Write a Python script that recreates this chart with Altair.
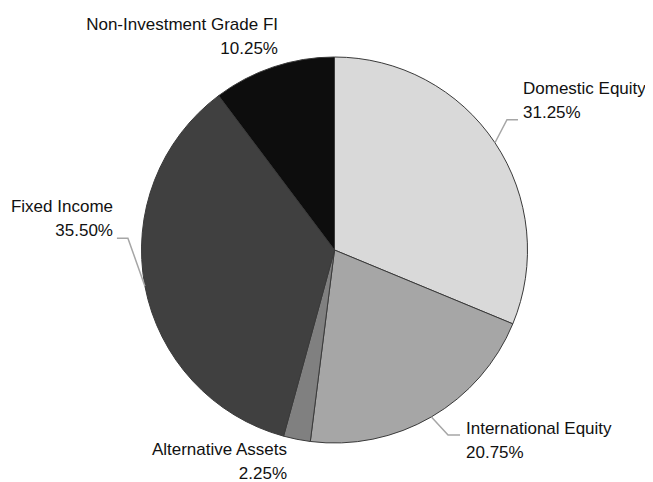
import altair as alt
import pandas as pd
import numpy as np

# ---- data ----
categories = ["Domestic Equity", "International Equity", "Alternative Assets",
              "Fixed Income", "Non-Investment Grade FI"]
values = [31.25, 20.75, 2.25, 35.50, 10.25]
pct_labels = ["31.25%", "20.75%", "2.25%", "35.50%", "10.25%"]
colors = ["#d9d9d9", "#a6a6a6", "#808080", "#404040", "#0d0d0d"]

# ---- layout ----
W, H = 637, 474
CX, CY, R = 326.5, 242, 193
FONT = "Liberation Sans"
FS = 17
LH = 24

# label anchor (first line baseline) and alignment
label_x = [515, 458, 279, 105, 270]
label_y = [86, 426, 447, 204, 22]
label_align = ["left", "left", "right", "right", "right"]
# leader lines: elbow offset from slice edge point and horizontal run
has_leader = [True, True, False, True, False]
elbow_dx = [12, 16.6, 0, -17, 0]
elbow_dy = [-23, 18, 0, -48, 0]
run = [11, 12, 0, -11, 0]

df = pd.DataFrame({"category": categories, "value": values, "order": list(range(len(values)))})

vals = np.array(values)
cum = np.cumsum(vals)
mid = (cum - vals / 2) / vals.sum() * 2 * np.pi
edge_x = CX + R * np.sin(mid)
edge_y = CY - R * np.cos(mid)

line_rows = []
for i, c in enumerate(categories):
    if not has_leader[i]:
        continue
    ex, ey = edge_x[i] + elbow_dx[i], edge_y[i] + elbow_dy[i]
    pts = [(edge_x[i], edge_y[i]), (ex, ey), (ex + run[i], ey)]
    for k, (px, py) in enumerate(pts):
        line_rows.append({"category": c, "k": k, "px": px, "py": py})
lines_df = pd.DataFrame(line_rows)

text_rows = []
for i, c in enumerate(categories):
    text_rows.append({"t": c, "tx": label_x[i], "ty": label_y[i], "align": label_align[i]})
    text_rows.append({"t": pct_labels[i], "tx": label_x[i], "ty": label_y[i] + LH, "align": label_align[i]})
text_df = pd.DataFrame(text_rows)

pie = alt.Chart(df).mark_arc(outerRadius=R, stroke="#3a3a3a", strokeWidth=1).encode(
    theta=alt.Theta("value:Q", stack=True),
    color=alt.Color("category:N", scale=alt.Scale(domain=categories, range=colors), legend=None),
    order=alt.Order("order:Q"),
    x=alt.value(CX),
    y=alt.value(CY),
)

leaders = alt.Chart(lines_df).mark_line(color="#a6a6a6", strokeWidth=1.5).encode(
    x=alt.X("px:Q", scale=None, axis=None),
    y=alt.Y("py:Q", scale=None, axis=None),
    detail="category:N",
    order="k:Q",
)

def text_layer(al):
    return alt.Chart(text_df).transform_filter(alt.datum.align == al).mark_text(
        align=al, baseline="alphabetic", font=FONT, fontSize=FS, color="#111111"
    ).encode(
        x=alt.X("tx:Q", scale=None, axis=None),
        y=alt.Y("ty:Q", scale=None, axis=None),
        text="t:N",
    )

chart = alt.layer(pie, leaders, text_layer("left"), text_layer("right")).properties(
    width=W, height=H, padding=0, autosize="none"
).configure_view(stroke=None)

chart.save("out.html", embed_options={"renderer": "svg", "actions": False})
